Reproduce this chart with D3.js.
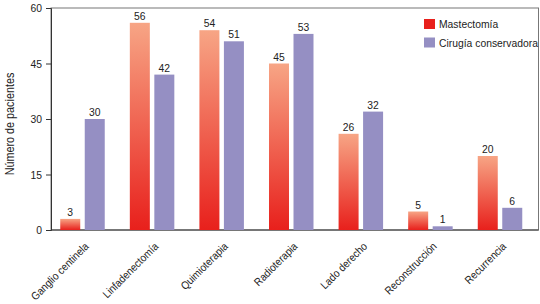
<!DOCTYPE html>
<html lang="es">
<head>
<meta charset="UTF-8">
<title>Número de pacientes</title>
<script src="https://d3js.org/d3.v7.min.js"></script>
<style>
    body { margin: 0; background: #fff; }
    svg { display: block; font-family: "Liberation Sans", Arial, sans-serif; }
</style>
</head>
<body>
<div id="chart"></div>
<script>
    const categories = ["Ganglio centinela", "Linfadenectomía", "Quimioterapia", "Radioterapia",
        "Lado derecho", "Reconstrucción", "Recurrencia"];
    const mastectomia = [3, 56, 54, 45, 26, 5, 20];
    const cirugia = [30, 42, 51, 53, 32, 1, 6];
    const seriesNames = ["Mastectomía", "Cirugía conservadora"];
    const yTicks = [0, 15, 30, 45, 60];

    const width = 540, height = 304;
    const plot = {left: 51, right: 538.5, top: 8, bottom: 230};
    const narrow = "scale(0.9,1)"; // the source font is condensed
    const fs = 11, ink = "#222";

    const svg = d3.select("#chart").append("svg")
        .attr("width", width)
        .attr("height", height);

    const defs = svg.append("defs");
    const grad = defs.append("linearGradient")
        .attr("id", "redGrad")
        .attr("x1", 0).attr("y1", 0).attr("x2", 0).attr("y2", 1);
    grad.append("stop").attr("offset", "0%").attr("stop-color", "#f7a585");
    grad.append("stop").attr("offset", "100%").attr("stop-color", "#e8201c");

    const x = d3.scaleBand()
        .domain(categories)
        .range([47.7, 534.8]);

    const y = d3.scaleLinear()
        .domain([0, 60])
        .range([plot.bottom, plot.top]);

    const barW = 20, offset = 24.5;

    // frame
    svg.append("rect")
        .attr("x", plot.left)
        .attr("y", plot.top)
        .attr("width", plot.right - plot.left)
        .attr("height", plot.bottom - plot.top)
        .attr("fill", "none")
        .attr("stroke", "#777")
        .attr("stroke-width", 1);

    const yAxis = svg.append("g")
        .attr("transform", `translate(${plot.left},0)`)
        .call(d3.axisLeft(y).tickValues(yTicks).tickSize(5).tickFormat(""));
    yAxis.select(".domain").attr("stroke", "#333");
    yAxis.selectAll(".tick line").attr("stroke", "#333");

    svg.append("g")
        .selectAll("text")
        .data(yTicks)
        .join("text")
        .attr("transform", d => `translate(${plot.left - 9},${y(d) + 4}) ${narrow}`)
        .attr("text-anchor", "end")
        .attr("font-size", fs + 0.5)
        .attr("fill", ink)
        .text(d => d);

    svg.append("line")
        .attr("x1", plot.left).attr("x2", plot.right)
        .attr("y1", plot.bottom).attr("y2", plot.bottom)
        .attr("stroke", "#333");

    const groups = svg.append("g")
        .selectAll("g")
        .data(categories)
        .join("g")
        .attr("transform", d => `translate(${x(d) + x.bandwidth() / 2 - (offset + barW) / 2},0)`);

    groups.append("rect")
        .attr("x", 0)
        .attr("y", (d, i) => y(mastectomia[i]))
        .attr("width", barW)
        .attr("height", (d, i) => y(0) - y(mastectomia[i]))
        .attr("fill", "url(#redGrad)");

    groups.append("rect")
        .attr("x", offset)
        .attr("y", (d, i) => y(cirugia[i]))
        .attr("width", barW)
        .attr("height", (d, i) => y(0) - y(cirugia[i]))
        .attr("fill", "#958fc3");

    groups.append("text")
        .attr("transform", (d, i) => `translate(${barW / 2},${y(mastectomia[i]) - 3}) ${narrow}`)
        .attr("text-anchor", "middle")
        .attr("font-size", fs + 0.5)
        .attr("fill", ink)
        .text((d, i) => mastectomia[i]);

    groups.append("text")
        .attr("transform", (d, i) => `translate(${offset + barW / 2},${y(cirugia[i]) - 3}) ${narrow}`)
        .attr("text-anchor", "middle")
        .attr("font-size", fs + 0.5)
        .attr("fill", ink)
        .text((d, i) => cirugia[i]);

    // rotated category labels
    svg.append("g")
        .selectAll("text")
        .data(categories)
        .join("text")
        .attr("transform", d => `translate(${x(d) + x.bandwidth() / 2 + 7},${plot.bottom + 17}) rotate(-45) ${narrow}`)
        .attr("text-anchor", "end")
        .attr("font-size", fs)
        .attr("fill", ink)
        .text(d => d);

    svg.append("text")
        .attr("transform", `translate(14,124) rotate(-90) ${narrow}`)
        .attr("text-anchor", "middle")
        .attr("font-size", 12)
        .attr("fill", ink)
        .text("Número de pacientes");

    // legend
    const legendColors = ["#e8201c", "#958fc3"];
    const legend = svg.append("g")
        .selectAll("g")
        .data(seriesNames)
        .join("g")
        .attr("transform", (d, i) => `translate(424,${19 + i * 18.5})`);
    legend.append("rect")
        .attr("width", 11).attr("height", 10)
        .attr("fill", (d, i) => legendColors[i]);
    legend.append("text")
        .attr("transform", `translate(15,9) ${narrow}`)
        .attr("font-size", fs + 0.5)
        .attr("fill", ink)
        .text(d => d);
</script>
</body>
</html>
